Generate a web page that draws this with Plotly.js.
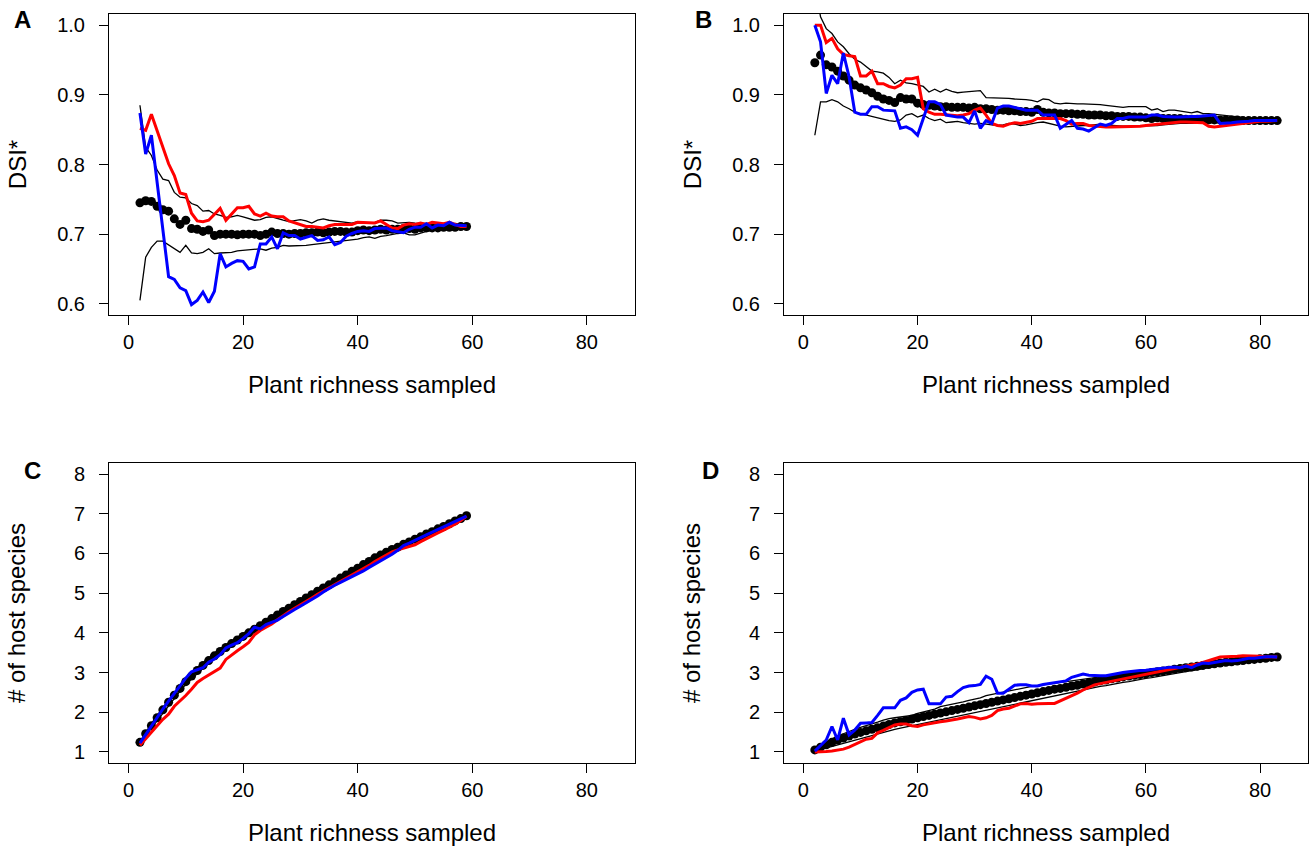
<!DOCTYPE html>
<html>
<head>
<meta charset="utf-8">
<script src="https://cdn.plot.ly/plotly-3.0.1.min.js"></script>
<style>
  html, body { margin: 0; padding: 0; background: #ffffff; }
  #chart { width: 1311px; height: 849px; }
</style>
</head>
<body>
<div id="chart"></div>
<script>
// ---------- Data ----------
// Plant richness sampled: site 1 (panels A, C) 2..59, site 2 (panels B, D) 2..83
function seqInt(a, b) { var r = []; for (var i = a; i <= b; i++) r.push(i); return r; }
var richness1 = seqInt(2, 59);
var richness2 = seqInt(2, 83);

// Panel A: DSI*
var meanA = [0.745,0.748,0.747,0.740,0.735,0.733,0.722,0.714,0.720,0.708,0.707,0.704,0.706,0.698,0.700,0.700,0.700,0.699,0.700,0.700,0.700,0.698,0.700,0.703,0.701,0.701,0.700,0.701,0.701,0.702,0.702,0.703,0.702,0.703,0.704,0.704,0.703,0.703,0.705,0.706,0.705,0.706,0.707,0.706,0.707,0.707,0.708,0.708,0.707,0.709,0.709,0.709,0.709,0.710,0.710,0.710,0.711,0.711];
var upperA = [0.885,0.825,0.813,0.792,0.779,0.777,0.760,0.753,0.752,0.744,0.741,0.733,0.734,0.729,0.727,0.724,0.725,0.727,0.725,0.722,0.720,0.721,0.724,0.725,0.722,0.720,0.718,0.720,0.721,0.719,0.716,0.720,0.722,0.720,0.719,0.718,0.718,0.716,0.718,0.717,0.716,0.717,0.720,0.720,0.719,0.716,0.717,0.717,0.716,0.716,0.716,0.716,0.715,0.714,0.715,0.713,0.712,0.712];
var lowerA = [0.605,0.667,0.681,0.690,0.690,0.685,0.679,0.674,0.684,0.673,0.672,0.674,0.679,0.672,0.673,0.673,0.674,0.676,0.677,0.678,0.679,0.679,0.677,0.680,0.681,0.684,0.683,0.683,0.683,0.684,0.685,0.686,0.686,0.688,0.689,0.690,0.691,0.692,0.693,0.695,0.696,0.694,0.697,0.698,0.700,0.701,0.702,0.699,0.699,0.702,0.704,0.705,0.706,0.706,0.708,0.709,0.710,0.711];
var redA = [0.852,0.849,0.872,0.848,0.823,0.801,0.784,0.759,0.757,0.730,0.719,0.718,0.720,0.729,0.737,0.720,0.729,0.738,0.738,0.740,0.729,0.726,0.730,0.726,0.725,0.725,0.719,0.716,0.713,0.711,0.711,0.710,0.709,0.712,0.714,0.714,0.714,0.714,0.717,0.717,0.717,0.716,0.719,0.714,0.709,0.708,0.713,0.715,0.714,0.716,0.714,0.717,0.716,0.715,0.717,0.714,0.711,0.711];
var blueA = [0.874,0.815,0.842,0.775,0.705,0.639,0.635,0.623,0.619,0.599,0.605,0.617,0.602,0.618,0.672,0.653,0.658,0.662,0.661,0.650,0.653,0.686,0.686,0.696,0.679,0.702,0.698,0.698,0.693,0.695,0.698,0.691,0.692,0.696,0.685,0.688,0.697,0.701,0.704,0.705,0.704,0.708,0.709,0.709,0.705,0.703,0.702,0.707,0.710,0.710,0.715,0.709,0.713,0.712,0.717,0.713,0.712,0.712];

// Panel B: DSI*
var meanB = [0.946,0.957,0.943,0.940,0.934,0.927,0.921,0.914,0.910,0.907,0.903,0.898,0.894,0.892,0.889,0.896,0.894,0.894,0.888,0.886,0.885,0.884,0.883,0.883,0.882,0.882,0.882,0.881,0.882,0.880,0.880,0.879,0.878,0.878,0.877,0.877,0.876,0.876,0.875,0.879,0.875,0.874,0.874,0.873,0.873,0.873,0.872,0.872,0.871,0.871,0.871,0.870,0.870,0.869,0.869,0.869,0.868,0.868,0.867,0.866,0.867,0.866,0.866,0.866,0.866,0.865,0.865,0.865,0.865,0.864,0.864,0.864,0.864,0.864,0.864,0.863,0.863,0.863,0.863,0.863,0.863,0.863];
var upperB = [1.060,1.012,0.995,0.988,0.976,0.969,0.959,0.951,0.947,0.940,0.934,0.933,0.931,0.925,0.916,0.921,0.917,0.916,0.914,0.912,0.904,0.908,0.904,0.908,0.905,0.903,0.904,0.905,0.906,0.906,0.896,0.896,0.895,0.895,0.895,0.894,0.894,0.893,0.892,0.890,0.894,0.893,0.888,0.887,0.888,0.887,0.887,0.887,0.887,0.886,0.886,0.885,0.884,0.882,0.882,0.883,0.883,0.883,0.883,0.878,0.880,0.876,0.878,0.878,0.877,0.876,0.874,0.876,0.873,0.873,0.872,0.872,0.871,0.870,0.868,0.868,0.867,0.866,0.865,0.864,0.863,0.863];
var lowerB = [0.842,0.890,0.890,0.893,0.890,0.884,0.880,0.875,0.873,0.871,0.868,0.867,0.864,0.863,0.862,0.864,0.871,0.873,0.868,0.871,0.866,0.863,0.865,0.860,0.861,0.862,0.860,0.859,0.858,0.859,0.858,0.857,0.856,0.857,0.859,0.858,0.856,0.857,0.859,0.860,0.861,0.859,0.856,0.855,0.854,0.855,0.855,0.856,0.856,0.857,0.858,0.857,0.856,0.856,0.855,0.855,0.855,0.855,0.855,0.856,0.856,0.857,0.858,0.858,0.859,0.859,0.859,0.859,0.860,0.860,0.860,0.860,0.861,0.861,0.861,0.861,0.862,0.862,0.862,0.862,0.863,0.863];
var redB = [1.000,1.000,0.975,0.981,0.966,0.958,0.956,0.955,0.927,0.927,0.934,0.916,0.916,0.912,0.910,0.914,0.923,0.923,0.925,0.880,0.875,0.872,0.872,0.871,0.871,0.870,0.871,0.873,0.878,0.881,0.871,0.859,0.856,0.855,0.858,0.860,0.859,0.860,0.862,0.866,0.866,0.866,0.867,0.866,0.863,0.858,0.859,0.859,0.856,0.855,0.854,0.854,0.854,0.854,0.855,0.855,0.855,0.855,0.856,0.857,0.858,0.858,0.859,0.860,0.861,0.861,0.861,0.861,0.860,0.855,0.854,0.855,0.856,0.858,0.859,0.860,0.861,0.861,0.862,0.862,0.863,0.863];
var blueB = [1.000,0.976,0.902,0.928,0.916,0.960,0.926,0.875,0.872,0.872,0.883,0.883,0.878,0.878,0.877,0.852,0.854,0.850,0.842,0.866,0.890,0.890,0.886,0.871,0.869,0.868,0.868,0.860,0.877,0.852,0.863,0.859,0.881,0.884,0.884,0.882,0.879,0.878,0.878,0.878,0.871,0.871,0.871,0.852,0.857,0.863,0.852,0.851,0.848,0.853,0.858,0.856,0.859,0.866,0.866,0.868,0.868,0.869,0.868,0.871,0.871,0.869,0.868,0.868,0.868,0.869,0.869,0.869,0.870,0.871,0.871,0.859,0.859,0.860,0.861,0.861,0.862,0.863,0.863,0.863,0.863,0.863];

// Panel C: # of host species
var meanC = [1.24,1.46,1.66,1.86,2.06,2.25,2.43,2.60,2.77,2.91,3.05,3.18,3.30,3.42,3.53,3.63,3.73,3.82,3.91,4.00,4.09,4.18,4.27,4.36,4.45,4.54,4.62,4.71,4.79,4.88,4.96,5.05,5.13,5.21,5.29,5.38,5.46,5.55,5.63,5.72,5.80,5.89,5.96,6.03,6.10,6.16,6.23,6.29,6.36,6.42,6.49,6.55,6.62,6.68,6.75,6.82,6.88,6.95];
var upperC = [1.26,1.50,1.71,1.92,2.12,2.31,2.49,2.66,2.83,2.98,3.12,3.25,3.37,3.49,3.60,3.70,3.80,3.89,3.98,4.07,4.16,4.25,4.33,4.42,4.51,4.60,4.68,4.77,4.85,4.94,5.02,5.10,5.18,5.26,5.34,5.43,5.51,5.59,5.67,5.76,5.84,5.92,5.99,6.06,6.13,6.19,6.26,6.32,6.39,6.45,6.51,6.58,6.64,6.70,6.77,6.83,6.89,6.95];
var lowerC = [1.22,1.41,1.60,1.79,1.99,2.18,2.36,2.53,2.70,2.84,2.98,3.11,3.23,3.35,3.46,3.56,3.66,3.75,3.84,3.93,4.02,4.11,4.20,4.29,4.38,4.47,4.55,4.64,4.72,4.81,4.89,4.98,5.07,5.15,5.23,5.32,5.40,5.49,5.57,5.66,5.75,5.83,5.91,5.98,6.05,6.12,6.19,6.25,6.32,6.38,6.45,6.51,6.58,6.65,6.72,6.79,6.86,6.95];
var redC = [1.17,1.34,1.50,1.66,1.82,1.95,2.15,2.28,2.42,2.58,2.75,2.85,2.94,3.04,3.11,3.33,3.45,3.55,3.65,3.76,3.95,4.06,4.14,4.22,4.33,4.44,4.53,4.62,4.70,4.80,4.88,4.97,5.05,5.13,5.20,5.28,5.37,5.46,5.53,5.60,5.70,5.80,5.88,5.96,6.04,6.09,6.13,6.17,6.22,6.30,6.38,6.45,6.52,6.59,6.66,6.74,6.83,6.94];
var blueC = [1.22,1.44,1.66,1.88,2.08,2.28,2.48,2.68,2.86,3.02,3.08,3.12,3.26,3.34,3.45,3.62,3.69,3.75,3.86,3.98,4.14,4.10,4.21,4.27,4.32,4.41,4.51,4.59,4.67,4.75,4.85,4.93,5.03,5.12,5.20,5.27,5.34,5.42,5.49,5.56,5.65,5.73,5.81,5.89,5.98,6.08,6.20,6.26,6.32,6.40,6.47,6.54,6.60,6.66,6.74,6.80,6.87,6.94];

// Panel D: # of host species
var meanD = [1.05,1.12,1.18,1.24,1.30,1.35,1.40,1.45,1.49,1.53,1.57,1.61,1.65,1.69,1.73,1.76,1.79,1.83,1.86,1.89,1.92,1.95,1.98,2.01,2.04,2.07,2.10,2.13,2.16,2.19,2.22,2.25,2.28,2.31,2.34,2.37,2.40,2.43,2.46,2.49,2.52,2.55,2.58,2.60,2.63,2.66,2.68,2.71,2.74,2.76,2.79,2.81,2.84,2.86,2.89,2.91,2.93,2.95,2.97,3.00,3.02,3.04,3.06,3.08,3.10,3.12,3.14,3.16,3.18,3.20,3.22,3.24,3.26,3.27,3.29,3.30,3.32,3.33,3.35,3.36,3.38,3.39];
var upperD = [1.08,1.17,1.25,1.33,1.40,1.46,1.52,1.57,1.62,1.66,1.70,1.75,1.80,1.84,1.86,1.88,1.89,1.92,1.97,2.01,2.05,2.08,2.14,2.17,2.20,2.22,2.26,2.30,2.33,2.36,2.42,2.45,2.48,2.51,2.54,2.57,2.60,2.63,2.65,2.67,2.69,2.71,2.74,2.76,2.78,2.80,2.82,2.84,2.86,2.88,2.90,2.92,2.94,2.96,2.98,3.00,3.02,3.04,3.06,3.08,3.10,3.12,3.14,3.16,3.18,3.19,3.21,3.23,3.24,3.26,3.28,3.29,3.31,3.32,3.33,3.34,3.35,3.36,3.37,3.38,3.39,3.39];
var lowerD = [1.02,1.06,1.10,1.14,1.18,1.22,1.26,1.30,1.34,1.38,1.42,1.45,1.49,1.53,1.57,1.60,1.63,1.66,1.70,1.73,1.76,1.79,1.82,1.85,1.88,1.91,1.94,1.97,2.00,2.03,2.06,2.09,2.12,2.15,2.18,2.21,2.24,2.27,2.30,2.33,2.36,2.39,2.42,2.45,2.48,2.51,2.54,2.57,2.60,2.62,2.65,2.67,2.70,2.72,2.75,2.77,2.80,2.82,2.85,2.87,2.90,2.92,2.95,2.97,3.00,3.02,3.05,3.07,3.10,3.12,3.15,3.17,3.19,3.21,3.23,3.25,3.27,3.29,3.32,3.34,3.37,3.39];
var redD = [1.00,1.00,1.01,1.02,1.04,1.07,1.12,1.18,1.26,1.32,1.34,1.48,1.54,1.62,1.68,1.70,1.70,1.66,1.64,1.68,1.71,1.74,1.76,1.78,1.80,1.83,1.86,1.89,1.87,1.83,1.86,1.92,2.04,2.08,2.10,2.16,2.21,2.22,2.20,2.21,2.22,2.22,2.22,2.28,2.35,2.42,2.48,2.56,2.63,2.69,2.72,2.75,2.77,2.80,2.84,2.87,2.90,2.93,2.96,2.99,3.02,3.05,3.08,3.11,3.14,3.17,3.19,3.21,3.26,3.30,3.35,3.39,3.40,3.40,3.41,3.42,3.42,3.42,3.41,3.39,3.40,3.39];
var blueD = [1.02,1.15,1.30,1.64,1.30,1.85,1.43,1.55,1.72,1.73,1.74,1.92,2.11,2.11,2.11,2.30,2.36,2.50,2.56,2.58,2.21,2.21,2.21,2.38,2.40,2.52,2.62,2.66,2.67,2.70,2.91,2.83,2.48,2.48,2.58,2.68,2.69,2.69,2.66,2.66,2.70,2.72,2.74,2.77,2.79,2.88,2.92,2.96,2.93,2.92,2.92,2.92,2.95,2.98,3.00,3.02,3.04,3.05,3.06,3.08,3.09,3.11,3.13,3.14,3.12,3.16,3.12,3.19,3.24,3.23,3.25,3.28,3.30,3.29,3.30,3.33,3.36,3.36,3.38,3.40,3.40,3.39];

// Axis labels / ticks
var xTitle = "Plant richness sampled";
var yTitleTop = "DSI*";
var yTitleBottom = "# of host species";
var xTicks = [0, 20, 40, 60, 80];
var yTicksDSI = [0.6, 0.7, 0.8, 0.9, 1.0];
var yTicksHost = [1, 2, 3, 4, 5, 6, 7, 8];
var panelLetters = ["A", "B", "C", "D"];

// ---------- Build traces ----------
var FONT = "Liberation Sans, Arial, Helvetica, sans-serif";
function panelTraces(x, mean, up, lo, red, blue, xa, ya) {
  return [
    {x: x, y: mean, xaxis: xa, yaxis: ya, mode: "markers", type: "scatter",
     marker: {color: "#000000", size: 9}, hoverinfo: "skip"},
    {x: x, y: up, xaxis: xa, yaxis: ya, mode: "lines", type: "scatter",
     line: {color: "#000000", width: 1.3}, hoverinfo: "skip"},
    {x: x, y: lo, xaxis: xa, yaxis: ya, mode: "lines", type: "scatter",
     line: {color: "#000000", width: 1.3}, hoverinfo: "skip"},
    {x: x, y: red, xaxis: xa, yaxis: ya, mode: "lines", type: "scatter",
     line: {color: "#ff0000", width: 3}, hoverinfo: "skip"},
    {x: x, y: blue, xaxis: xa, yaxis: ya, mode: "lines", type: "scatter",
     line: {color: "#0000ff", width: 3}, hoverinfo: "skip"}
  ];
}
var data = []
  .concat(panelTraces(richness1, meanA, upperA, lowerA, redA, blueA, "x", "y"))
  .concat(panelTraces(richness2, meanB, upperB, lowerB, redB, blueB, "x2", "y2"))
  .concat(panelTraces(richness1, meanC, upperC, lowerC, redC, blueC, "x3", "y3"))
  .concat(panelTraces(richness2, meanD, upperD, lowerD, redD, blueD, "x4", "y4"));

var W = 1311, H = 849;
var colL = [109 / W, 635 / W], colR = [784 / W, 1308 / W];
var rowT = [1 - 315 / H, 1 - 14 / H], rowB = [1 - 763 / H, 1 - 463 / H];

function xAxis(dom, anchor) {
  return {domain: dom, anchor: anchor, range: [-3.4, 88.4], tickvals: xTicks,
    showline: true, mirror: true, linecolor: "#000", linewidth: 1,
    ticks: "outside", ticklen: 9, tickwidth: 1, tickcolor: "#000",
    ticklabelstandoff: 0,
    showgrid: false, zeroline: false,
    tickfont: {family: FONT, size: 20, color: "#000"},
    title: {text: xTitle, font: {family: FONT, size: 24, color: "#000"}, standoff: 24}};
}
function yAxis(dom, anchor, range, ticks, fmt, title, standoff) {
  return {domain: dom, anchor: anchor, range: range, tickvals: ticks,
    tickformat: fmt,
    showline: true, mirror: true, linecolor: "#000", linewidth: 1,
    ticks: "outside", ticklen: 9, tickwidth: 1, tickcolor: "#000",
    ticklabelstandoff: 10,
    showgrid: false, zeroline: false,
    tickfont: {family: FONT, size: 20, color: "#000"},
    title: {text: title, font: {family: FONT, size: 24, color: "#000"}, standoff: standoff}};
}

var letterPos = [[22, 20], [703, 20], [32, 470], [710, 470]];
var annotations = panelLetters.map(function (t, i) {
  return {text: "<b>" + t + "</b>", xref: "paper", yref: "paper",
    x: letterPos[i][0] / W, y: 1 - letterPos[i][1] / H,
    xanchor: "center", yanchor: "middle", showarrow: false,
    font: {family: FONT, size: 24, color: "#000"}};
});

var layout = {
  width: W, height: H,
  margin: {l: 0, r: 0, t: 0, b: 0},
  paper_bgcolor: "#ffffff", plot_bgcolor: "#ffffff",
  showlegend: false,
  xaxis: xAxis(colL, "y"),
  yaxis: yAxis(rowT, "x", [0.584, 1.016], yTicksDSI, ".1f", yTitleTop, 23),
  xaxis2: xAxis(colR, "y2"),
  yaxis2: yAxis(rowT, "x2", [0.584, 1.016], yTicksDSI, ".1f", yTitleTop, 23),
  xaxis3: xAxis(colL, "y3"),
  yaxis3: yAxis(rowB, "x3", [0.72, 8.28], yTicksHost, "d", yTitleBottom, 41),
  xaxis4: xAxis(colR, "y4"),
  yaxis4: yAxis(rowB, "x4", [0.72, 8.28], yTicksHost, "d", yTitleBottom, 41),
  annotations: annotations
};

Plotly.newPlot("chart", data, layout, {displayModeBar: false, staticPlot: true});
</script>
</body>
</html>
